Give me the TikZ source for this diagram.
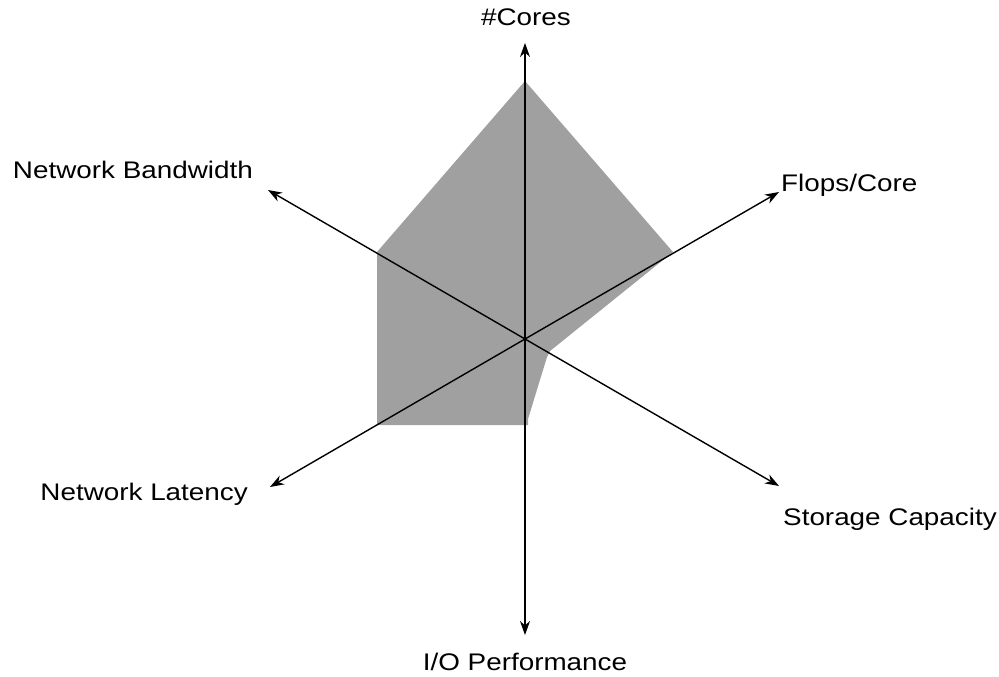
\documentclass[tikz,border=0pt]{standalone}
\usepackage{fontspec}
\setmainfont[FakeStretch=1.16]{Liberation Sans}
\usetikzlibrary{arrows.meta}
\definecolor{areagray}{RGB}{159,160,159}
\tikzset{
  axis/.style={line width=1.4pt, -{Stealth[length=14pt,width=10pt,inset=4.5pt]}},
  lbl/.style={inner sep=0pt, font=\fontsize{24}{28}\selectfont},
  area/.style={fill=areagray, draw=none}
}
\begin{document}
\begin{tikzpicture}[x=1pt,y=-1pt]
\useasboundingbox (0,0) rectangle (999,677);
\fill[area] (525,81) -- (673,252) -- (550,351) -- (547,357) -- (528,419) -- (528,425) -- (377,425) -- (377,252) -- cycle;
\coordinate (c) at (525,339);
\coordinate (tcores) at (525,43);
\coordinate (tio) at (525,635);
\coordinate (tflops) at (779,192);
\coordinate (tstor) at (779,486);
\coordinate (tbw) at (268,190);
\coordinate (tlat) at (270,487);
\draw[axis] (c) -- (tcores);
\draw[axis] (c) -- (tio);
\draw[axis] (c) -- (tflops);
\draw[axis] (c) -- (tstor);
\draw[axis] (c) -- (tbw);
\draw[axis] (c) -- (tlat);
\node[lbl, anchor=base] (cores) at (526,26) {\#Cores};
\node[lbl, anchor=base west] (flops) at (781,191) {Flops/Core};
\node[lbl, anchor=base east] (bw) at (253,178) {Network Bandwidth};
\node[lbl, anchor=base east] (lat) at (248,500) {Network Latency};
\node[lbl, anchor=base west] (stor) at (783,525) {Storage Capacity};
\node[lbl, anchor=base] (io) at (525,670) {I/O Performance};
\end{tikzpicture}
\end{document}
